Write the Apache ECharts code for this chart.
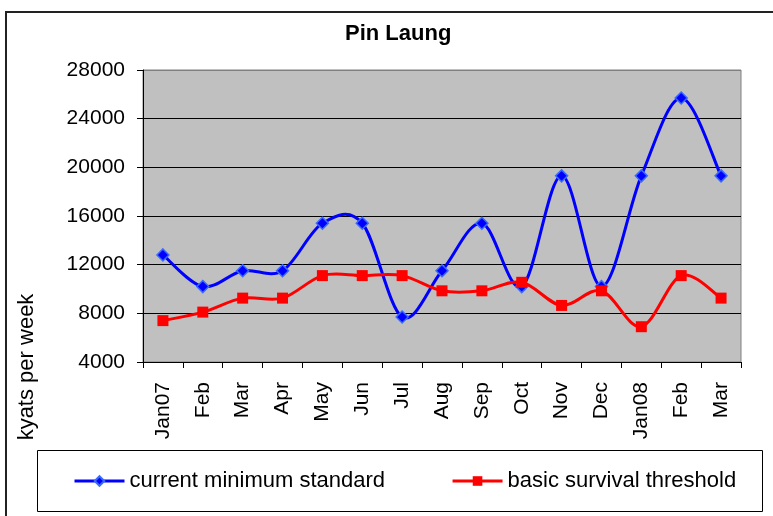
<!DOCTYPE html>
<html>
  <head>
    <meta charset="utf-8" />
    <title>Pin Laung</title>
    <script src="https://cdn.jsdelivr.net/npm/echarts@6/dist/echarts.min.js"></script>
    <style>
      html, body { margin: 0; padding: 0; background: #fff; }
      #main { width: 773px; height: 516px; }
    </style>
  </head>
  <body>
    <div id="main"></div>
    <script type="text/javascript">
      // months, Jan 2007 - Mar 2008
      var months = ["Jan07", "Feb", "Mar", "Apr", "May", "Jun", "Jul", "Aug", "Sep", "Oct", "Nov", "Dec", "Jan08", "Feb", "Mar"];
      // kyats per week
      var currentMinimum = [12800, 10200, 11500, 11500, 15400, 15400, 7700, 11500, 15400, 10200, 19300, 10200, 19300, 25700, 19300];
      var survivalThreshold = [7400, 8100, 9250, 9250, 11100, 11100, 11100, 9850, 9850, 10550, 8650, 9850, 6900, 11100, 9250];
      var yTicks = [4000, 28000, 4000]; // min, max, step

      var font = "'Liberation Sans', Arial, sans-serif";

      // excel style smoothed line: catmull-rom segment from point i to i+1
      function smoothSegment(values, color) {
        return function (params, api) {
          var i = params.dataIndex;
          var n = values.length;
          if (i >= n - 1) return null;
          var p0 = api.coord([Math.max(i - 1, 0), values[Math.max(i - 1, 0)]]);
          var p1 = api.coord([i, values[i]]);
          var p2 = api.coord([i + 1, values[i + 1]]);
          var p3 = api.coord([Math.min(i + 2, n - 1), values[Math.min(i + 2, n - 1)]]);
          return {
            type: "bezierCurve",
            shape: {
              x1: p1[0], y1: p1[1],
              x2: p2[0], y2: p2[1],
              cpx1: p1[0] + (p2[0] - p0[0]) / 6,
              cpy1: p1[1] + (p2[1] - p0[1]) / 6,
              cpx2: p2[0] - (p3[0] - p1[0]) / 6,
              cpy2: p2[1] - (p3[1] - p1[1]) / 6,
            },
            style: { stroke: color, lineWidth: 3, fill: null, lineCap: "round" },
          };
        };
      }

      var myChart = echarts.init(document.getElementById("main"));
      var option = {
        animation: false,
        title: {
          text: "Pin Laung",
          left: 340,
          top: 18,
          textStyle: { fontFamily: font, fontSize: 22, fontWeight: "bold", color: "#000" },
        },
        graphic: [
          {
            type: "rect",
            shape: { x: 6, y: 12, width: 820, height: 600 },
            style: { fill: null, stroke: "#222", lineWidth: 2 },
            silent: true,
          },
          {
            type: "rect",
            shape: { x: 37.5, y: 450.5, width: 725, height: 61 },
            style: { fill: null, stroke: "#000", lineWidth: 1 },
            silent: true,
          },
          {
            type: "text",
            x: 27,
            y: 367,
            rotation: Math.PI / 2,
            style: {
              text: "kyats per week",
              font: "22px 'Liberation Sans', Arial, sans-serif",
              fill: "#000",
              align: "center",
              verticalAlign: "middle",
            },
          },
        ],
        legend: {
          data: [
            { name: "current minimum standard", lineStyle: { color: "#0000FF", width: 3, opacity: 1 } },
            { name: "basic survival threshold", lineStyle: { color: "#FF0000", width: 3, opacity: 1 } },
          ],
          left: 68,
          top: 465,
          itemWidth: 50,
          itemHeight: 12,
          itemGap: 66,
          textStyle: { fontFamily: font, fontSize: 22, color: "#000" },
        },
        grid: {
          left: 143,
          right: 32,
          top: 70,
          bottom: 154,
          show: true,
          backgroundColor: "#C0C0C0",
          borderColor: "#808080",
          borderWidth: 1,
        },
        xAxis: {
          type: "category",
          data: months,
          boundaryGap: true,
          axisLine: { lineStyle: { color: "#000", width: 1 } },
          axisTick: { show: true, length: 6, alignWithLabel: false, lineStyle: { color: "#000" } },
          axisLabel: {
            rotate: 90,
            margin: 20,
            fontFamily: font,
            fontSize: 21,
            color: "#000",
            interval: 0,
          },
        },
        yAxis: {
          type: "value",
          min: yTicks[0],
          max: yTicks[1],
          interval: yTicks[2],
          axisLine: { show: true, lineStyle: { color: "#000", width: 1 } },
          axisTick: { show: true, length: 6, lineStyle: { color: "#000" } },
          axisLabel: {
            margin: 18,
            fontFamily: font,
            fontSize: 21,
            color: "#000",
            formatter: function (v) { return String(v); },
          },
          splitLine: {
            show: true,
            lineStyle: { color: ["#000", "#000", "#000", "#000", "#000", "#000", "#808080"], width: 1 },
          },
        },
        series: [
          {
            name: "min curve",
            type: "custom",
            renderItem: smoothSegment(currentMinimum, "#0000FF"),
            data: currentMinimum.map(function (v, i) { return [i, v]; }),
            encode: { x: 0, y: 1 },
            silent: true,
            z: 2,
          },
          {
            name: "current minimum standard",
            type: "line",
            data: currentMinimum,
            symbol: "diamond",
            symbolSize: 12,
            lineStyle: { color: "#0000FF", width: 0, opacity: 0 },
            itemStyle: { color: "#0000FF", borderColor: "#3A6BFF", borderWidth: 1.5 },
            z: 3,
          },
          {
            name: "threshold curve",
            type: "custom",
            renderItem: smoothSegment(survivalThreshold, "#FF0000"),
            data: survivalThreshold.map(function (v, i) { return [i, v]; }),
            encode: { x: 0, y: 1 },
            silent: true,
            z: 4,
          },
          {
            name: "basic survival threshold",
            type: "line",
            data: survivalThreshold,
            symbol: "rect",
            symbolSize: 11,
            lineStyle: { color: "#FF0000", width: 0, opacity: 0 },
            itemStyle: { color: "#FF0000" },
            z: 5,
          },
        ],
      };
      myChart.setOption(option);
    </script>
  </body>
</html>
